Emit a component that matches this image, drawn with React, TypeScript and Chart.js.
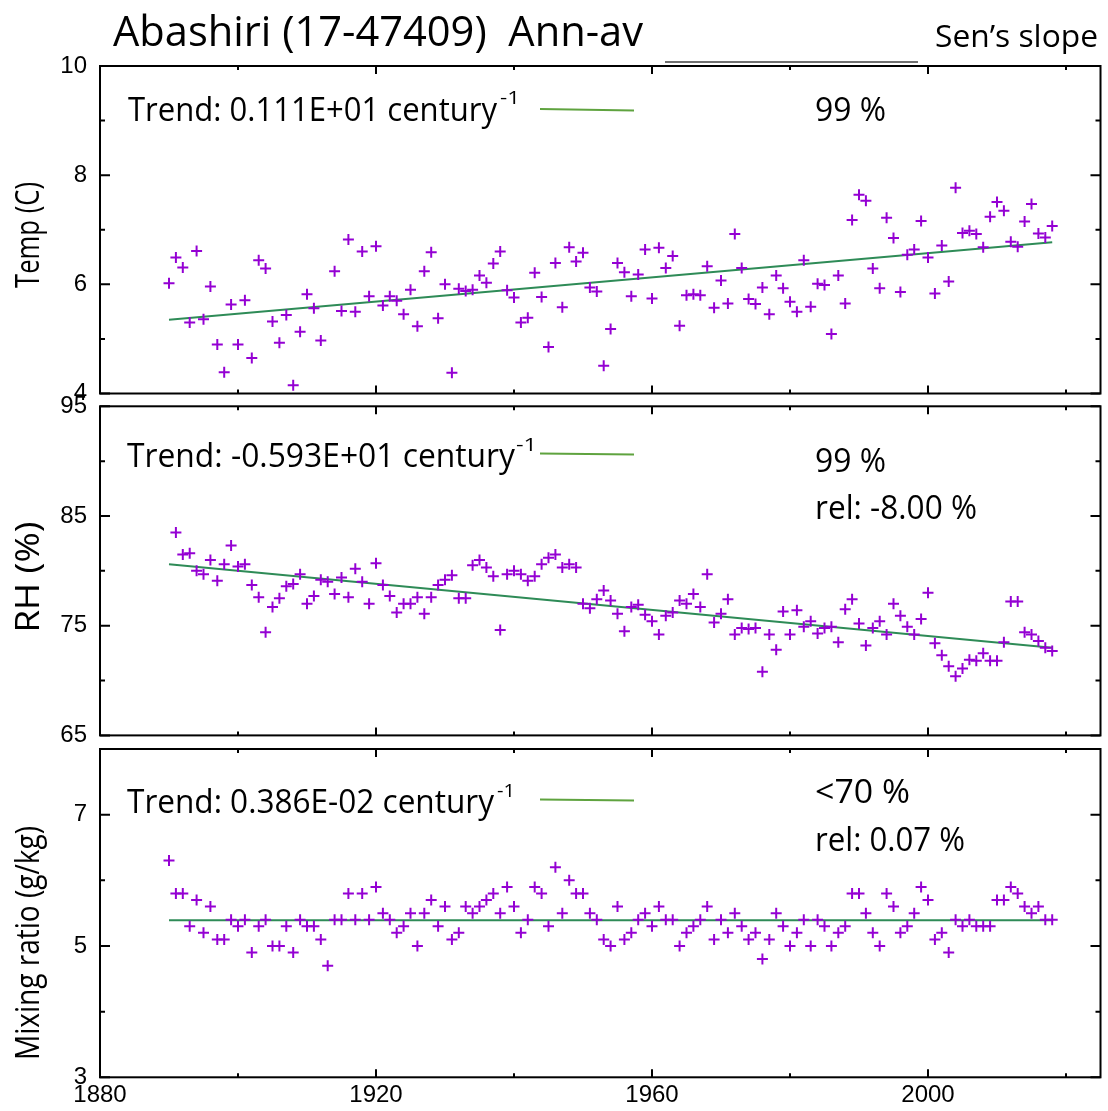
import { useEffect, useRef } from 'react';
import { Chart, registerables } from 'chart.js';

Chart.register(...registerables);

// ---------------- data ----------------
const firstYear = 1890;

const tempValues: (number | null)[] = [
  6.02, 6.49, 6.31, 5.30, 6.61, 5.36, 5.96, 4.90, 4.39, 5.63,
  4.90, 5.71, 4.65, 6.44, 6.29, 5.32, 4.93, 5.44, 4.15, 5.13,
  5.82, 5.56, 4.97, null, 6.24, 5.51, 6.82, 5.50, 6.60, 5.78,
  6.70, 5.61, 5.78, 5.70, 5.45, 5.90, 5.23, 6.24, 6.59, 5.38,
  6.00, 4.38, 5.92, 5.88, 5.90, 6.16, 6.03, 6.38, 6.60, 5.89,
  5.76, 5.30, 5.39, 6.21, 5.77, 4.85, 6.39, 5.58, 6.68, 6.42,
  6.58, 5.94, 5.87, 4.51, 5.18, 6.39, 6.22, 5.78, 6.18, 6.64,
  5.74, 6.67, 6.30, 6.52, 5.24, 5.80, 5.82, 5.80, 6.33, 5.57,
  6.07, 5.65, 6.92, 6.30, 5.73, 5.64, 5.94, 5.45, 6.16, 5.93,
  5.68, 5.50, 6.44, 5.59, 6.01, 5.99, 5.09, 6.16, 5.65, 7.18,
  7.64, 7.53, 6.29, 5.93, 7.22, 6.85, 5.86, 6.54, 6.64, 7.16,
  6.49, 5.83, 6.71, 6.05, 7.77, 6.94, 6.98, 6.92, 6.68, 7.24,
  7.51, 7.35, 6.78, 6.69, 7.15, 7.47, 6.93, 6.86, 7.07,
];

const rhValues: (number | null)[] = [
  null, 83.5, 81.5, 81.6, 80.0, 79.7, 81.0, 79.1, 80.6, 82.3,
  80.4, 80.6, 78.7, 77.6, 74.4, 76.7, 77.5, 78.6, 78.8, 79.7,
  77.0, 77.7, 79.2, 79.0, 77.9, 79.4, 77.6, 80.2, 79.0, 77.0,
  80.7, 78.7, 77.7, 76.2, 77.0, 77.0, 77.6, 76.1, 77.6, 78.7,
  79.2, 79.6, 77.5, 77.5, 80.5, 81.0, 80.3, 79.5, 74.6, 79.7,
  80.0, 79.7, 79.1, 79.5, 80.6, 81.2, 81.5, 80.3, 80.6, 80.3,
  77.0, 76.6, 77.4, 78.2, 77.3, 76.1, 74.5, 76.7, 76.9, 76.0,
  75.4, 74.2, 75.9, 76.2, 77.3, 77.0, 77.9, 76.7, 79.7, 75.3,
  76.1, 77.4, 74.2, 74.8, 74.7, 74.8, 70.8, 74.2, 72.8, 76.3,
  74.2, 76.4, 74.9, 75.4, 74.3, 74.8, 74.9, 73.5, 76.5, 77.4,
  75.2, 73.2, 74.8, 75.4, 74.2, 77.0, 75.9, 74.9, 74.2, 75.6,
  78.0, 73.4, 72.3, 71.3, 70.4, 71.1, 71.9, 71.8, 72.5, 71.8,
  71.8, 73.5, 77.2, 77.2, 74.4, 74.2, 73.6, 73.0, 72.7,
];

const mrValues: (number | null)[] = [
  6.3, 5.8, 5.8, 5.3, 5.7, 5.2, 5.6, 5.1, 5.1, 5.4,
  5.3, 5.4, 4.9, 5.3, 5.4, 5.0, 5.0, 5.3, 4.9, 5.4,
  5.3, 5.3, 5.1, 4.7, 5.4, 5.4, 5.8, 5.4, 5.8, 5.4,
  5.9, 5.5, 5.4, 5.2, 5.3, 5.5, 5.0, 5.5, 5.7, 5.3,
  5.6, 5.1, 5.2, 5.6, 5.5, 5.6, 5.7, 5.8, 5.5, 5.9,
  5.6, 5.2, 5.4, 5.9, 5.8, 5.3, 6.2, 5.5, 6.0, 5.8,
  5.8, 5.5, 5.4, 5.1, 5.0, 5.6, 5.1, 5.2, 5.4, 5.5,
  5.3, 5.6, 5.4, 5.4, 5.0, 5.2, 5.3, 5.4, 5.6, 5.1,
  5.4, 5.2, 5.5, 5.3, 5.1, 5.2, 4.8, 5.1, 5.5, 5.3,
  5.0, 5.2, 5.4, 5.0, 5.4, 5.3, 5.0, 5.2, 5.3, 5.8,
  5.8, 5.5, 5.2, 5.0, 5.8, 5.6, 5.2, 5.3, 5.5, 5.9,
  5.7, 5.1, 5.2, 4.9, 5.4, 5.3, 5.4, 5.3, 5.3, 5.3,
  5.7, 5.7, 5.9, 5.8, 5.6, 5.5, 5.6, 5.4, 5.4,
];

const trendYears = [1890, 2018];
const tempTrend = [5.35, 6.77];
const rhTrend = [80.6, 73.0];
const mrTrend = [5.39, 5.39];

const xTickLabels = [1880, 1920, 1960, 2000];
const tempTickLabels = [4, 6, 8, 10];
const rhTickLabels = [65, 75, 85, 95];
const mrTickLabels = [3, 5, 7];

// ---------------- styles ----------------
const PURPLE = '#9400d3';
const TREND = '#2e8b57';
const KEY = '#5fa33f';
const TEXT_FONT = "'Open Sans', 'Noto Sans', sans-serif";
const TICK_FONT = "'Liberation Sans Narrow', 'Liberation Sans', Arial, sans-serif";
const W = 1108;
const H = 1111;

type TextItem = { t: string; x: number; y: number; size: number; w: number };
type Panel = {
  values: (number | null)[];
  trend: number[];
  min: number;
  max: number;
  step: number;
  labels: number[];
  top: number;
  bottom: number;
  showX: boolean;
  yTitle: string;
  yTitleCenter: number;
  yTitleLen: number;
  texts: TextItem[];
  keyLine: number[];
  grayLine?: number[];
};

const panels: Panel[] = [
  {
    values: tempValues, trend: tempTrend, min: 4, max: 10, step: 1, labels: tempTickLabels,
    top: 66, bottom: H - 393.5, showX: false,
    yTitle: 'Temp (C)', yTitleCenter: 235, yTitleLen: 106,
    texts: [
      { t: 'Abashiri (17-47409)  Ann-av', x: 113, y: 46, size: 42, w: 530 },
      { t: 'Sen\u2019s slope', x: 935, y: 47, size: 31, w: 163 },
      { t: 'Trend: 0.111E+01 century', x: 128, y: 121, size: 32, w: 369 },
      { t: '-1', x: 500, y: 104, size: 19, w: 20 },
      { t: '99 %', x: 815, y: 121, size: 32, w: 71 },
    ],
    keyLine: [540, 109, 634, 110.5],
    grayLine: [665, 62, 918, 62],
  },
  {
    values: rhValues, trend: rhTrend, min: 65, max: 95, step: 5, labels: rhTickLabels,
    top: 406.3, bottom: H - 735.4, showX: false,
    yTitle: 'RH (%)', yTitleCenter: 577, yTitleLen: 111,
    texts: [
      { t: 'Trend: -0.593E+01 century', x: 127, y: 467, size: 32, w: 388 },
      { t: '-1', x: 516, y: 451, size: 19, w: 21 },
      { t: '99 %', x: 815, y: 472, size: 32, w: 71 },
      { t: 'rel: -8.00 %', x: 815, y: 519, size: 32, w: 162 },
    ],
    keyLine: [540, 453.5, 634, 454.5],
  },
  {
    values: mrValues, trend: mrTrend, min: 3, max: 8, step: 1, labels: mrTickLabels,
    top: 749, bottom: H - 1077.3 - 30, showX: true,
    yTitle: 'Mixing ratio (g/kg)', yTitleCenter: 943, yTitleLen: 234,
    texts: [
      { t: 'Trend: 0.386E-02 century', x: 127, y: 813, size: 32, w: 367 },
      { t: '-1', x: 497, y: 797, size: 19, w: 18 },
      { t: '<70 %', x: 815, y: 803, size: 32, w: 95 },
      { t: 'rel: 0.07 %', x: 815, y: 851, size: 32, w: 150 },
    ],
    keyLine: [540, 799.5, 634, 800.5],
  },
];

function fitText(ctx: CanvasRenderingContext2D, text: string, x: number, y: number, size: number, width: number) {
  ctx.font = `${size}px ${TEXT_FONT}`;
  const m = ctx.measureText(text).width || 1;
  ctx.save();
  ctx.translate(x, y);
  ctx.scale(width / m, 1);
  ctx.textAlign = 'left';
  ctx.textBaseline = 'alphabetic';
  ctx.fillText(text, 0, 0);
  ctx.restore();
}

function makePlugin(p: Panel) {
  return {
    id: 'panelDecor',
    afterDatasetsDraw(chart: any) {
      const { ctx, chartArea: a, scales } = chart;
      const xs = scales.x;
      const ys = scales.y;
      ctx.save();
      ctx.strokeStyle = '#000';
      ctx.lineWidth = 2;
      ctx.strokeRect(a.left, a.top, a.right - a.left, a.bottom - a.top);
      ctx.beginPath();
      ys.ticks.forEach((t: any) => {
        const py = ys.getPixelForValue(t.value);
        const len = p.labels.includes(t.value) ? 10 : 5;
        ctx.moveTo(a.left, py);
        ctx.lineTo(a.left + len, py);
        ctx.moveTo(a.right, py);
        ctx.lineTo(a.right - len, py);
      });
      xs.ticks.forEach((t: any) => {
        const px = xs.getPixelForValue(t.value);
        const len = xTickLabels.includes(t.value) ? 8 : 4;
        ctx.moveTo(px, a.bottom);
        ctx.lineTo(px, a.bottom - len);
        ctx.moveTo(px, a.top);
        ctx.lineTo(px, a.top + len);
      });
      ctx.stroke();
      ctx.restore();
    },
    afterDraw(chart: any) {
      const { ctx } = chart;
      ctx.save();
      ctx.fillStyle = '#000';
      p.texts.forEach((it) => fitText(ctx, it.t, it.x, it.y, it.size, it.w));
      // rotated y-axis title
      ctx.save();
      ctx.translate(30, p.yTitleCenter);
      ctx.rotate(-Math.PI / 2);
      ctx.font = `32px ${TEXT_FONT}`;
      const m = ctx.measureText(p.yTitle).width || 1;
      ctx.scale(p.yTitleLen / m, 1);
      ctx.textAlign = 'center';
      ctx.textBaseline = 'middle';
      ctx.fillText(p.yTitle, 0, 0);
      ctx.restore();
      // key line
      ctx.strokeStyle = KEY;
      ctx.lineWidth = 2;
      ctx.beginPath();
      ctx.moveTo(p.keyLine[0], p.keyLine[1]);
      ctx.lineTo(p.keyLine[2], p.keyLine[3]);
      ctx.stroke();
      if (p.grayLine) {
        ctx.strokeStyle = '#707070';
        ctx.lineWidth = 2;
        ctx.beginPath();
        ctx.moveTo(p.grayLine[0], p.grayLine[1]);
        ctx.lineTo(p.grayLine[2], p.grayLine[3]);
        ctx.stroke();
      }
      ctx.restore();
    },
  };
}

function makeConfig(p: Panel): any {
  const points = p.values
    .map((v, i) => ({ x: firstYear + i, y: v }))
    .filter((pt) => pt.y !== null);
  const trend = trendYears.map((yr, i) => ({ x: yr, y: p.trend[i] }));
  return {
    type: 'scatter',
    data: {
      datasets: [
        {
          data: points,
          pointStyle: 'cross',
          pointRadius: 5.5,
          pointHoverRadius: 5.5,
          borderColor: PURPLE,
          backgroundColor: PURPLE,
          borderWidth: 2,
          showLine: false,
        },
        {
          data: trend,
          showLine: true,
          borderColor: TREND,
          borderWidth: 2,
          pointRadius: 0,
          fill: false,
        },
      ],
    },
    options: {
      responsive: false,
      animation: false,
      events: [],
      layout: { padding: { left: 0, right: 3, top: p.top, bottom: p.bottom } },
      plugins: {
        legend: { display: false },
        tooltip: { enabled: false },
        title: { display: false },
      },
      scales: {
        x: {
          type: 'linear',
          min: 1880,
          max: 2025,
          ticks: {
            stepSize: 20,
            includeBounds: false,
            autoSkip: false,
            maxRotation: 0,
            display: p.showX,
            padding: 6,
            color: '#000',
            font: { family: TICK_FONT, size: 24, lineHeight: 1 },
            callback: (v: number) => (xTickLabels.includes(v) ? String(v) : ''),
          },
          grid: { display: false, drawTicks: false },
          border: { display: false },
          afterFit: (s: any) => {
            s.height = p.showX ? 30 : 0;
          },
        },
        y: {
          type: 'linear',
          min: p.min,
          max: p.max,
          ticks: {
            stepSize: p.step,
            autoSkip: false,
            padding: 13,
            color: '#000',
            font: { family: TICK_FONT, size: 24, lineHeight: 1 },
            callback: (v: number) => (p.labels.includes(v) ? String(v) : ''),
          },
          grid: { display: false, drawTicks: false },
          border: { display: false },
          afterFit: (s: any) => {
            s.width = 100;
          },
        },
      },
    },
    plugins: [makePlugin(p)],
  };
}

function PanelCanvas({ p }: { p: Panel }) {
  const ref = useRef<HTMLCanvasElement | null>(null);
  useEffect(() => {
    if (!ref.current) return;
    const chart = new Chart(ref.current, makeConfig(p));
    return () => chart.destroy();
  }, [p]);
  return (
    <canvas
      ref={ref}
      width={W}
      height={H}
      style={{ position: 'absolute', left: 0, top: 0, width: W, height: H }}
    />
  );
}

export default function App() {
  return (
    <div style={{ position: 'fixed', left: 0, top: 0, width: W, height: H, background: '#fff', overflow: 'hidden' }}>
      {panels.map((p, i) => (
        <PanelCanvas key={i} p={p} />
      ))}
    </div>
  );
}
